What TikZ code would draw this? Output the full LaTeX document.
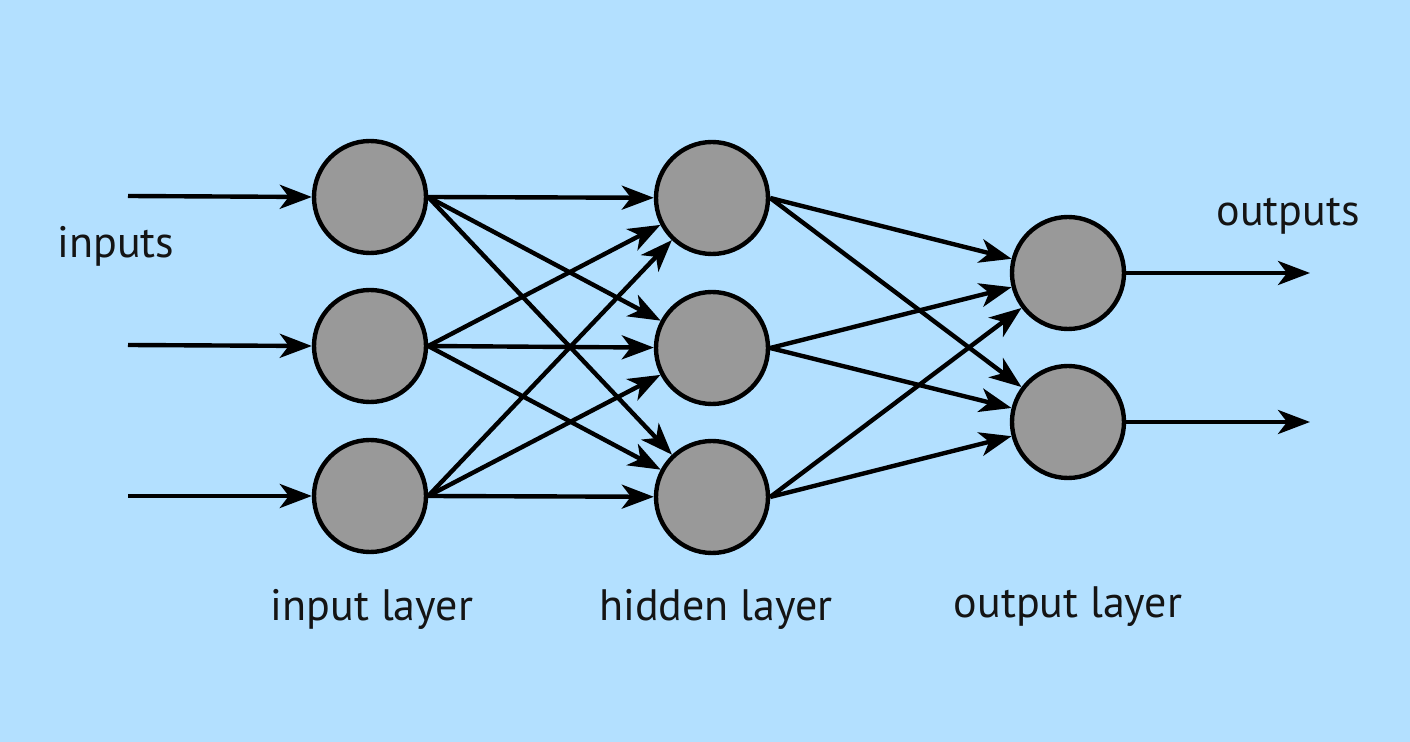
\documentclass[tikz,border=0pt]{standalone}
\usepackage{fontspec}
\setmainfont{PT Sans}
\usetikzlibrary{arrows.meta}
\definecolor{bg}{RGB}{179,224,255}
\definecolor{nodegray}{RGB}{153,153,153}
\begin{document}
\begin{tikzpicture}[x=0.5pt,y=-0.5pt,
  neuron/.style={circle,draw=black,line width=2.2pt,fill=nodegray,minimum size=56pt,inner sep=0pt},
  conn/.style={line width=2.2pt,-{Stealth[length=16pt,width=12pt,inset=4.5pt]}},
  lbl/.style={font=\fontsize{22}{24}\selectfont,text=black!92}]
\fill[bg] (0,0) rectangle (1410,742);
\useasboundingbox (0,0) rectangle (1410,742);
\node[neuron] (i1) at (370,197) {};
\node[neuron] (i2) at (370,346) {};
\node[neuron] (i3) at (370,496) {};
\node[neuron] (h1) at (712,198) {};
\node[neuron] (h2) at (712,348) {};
\node[neuron] (h3) at (712,497) {};
\node[neuron] (o1) at (1068,273) {};
\node[neuron] (o2) at (1068,422) {};
\coordinate (s1) at (128,196);
\coordinate (s2) at (128,345);
\coordinate (s3) at (128,496);
\coordinate (e1) at (1310,273);
\coordinate (e2) at (1310,422);
\draw[conn] (s1) -- (i1.west);
\draw[conn] (s2) -- (i2.west);
\draw[conn] (s3) -- (i3.west);
\foreach \a in {i1,i2,i3}{\foreach \b in {h1,h2,h3}{\draw[conn] (\a.east) -- (\b);}}
\foreach \a in {h1,h2,h3}{\foreach \b in {o1,o2}{\draw[conn] (\a.east) -- (\b);}}
\draw[conn] (o1.east) -- (e1);
\draw[conn] (o2.east) -- (e2);
\node[lbl] (tin) at (116,246) {inputs};
\node[lbl] (tout) at (1288,216) {outputs};
\node[lbl] (til) at (372,609) {input layer};
\node[lbl] (thl) at (716,609) {hidden layer};
\node[lbl] (tol) at (1068,607) {output layer};
\end{tikzpicture}
\end{document}
